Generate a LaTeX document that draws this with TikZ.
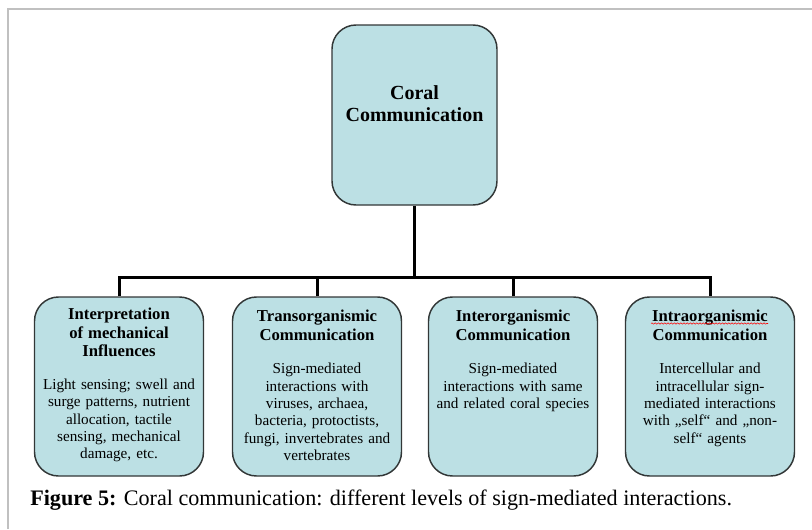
\documentclass[tikz,border=0pt]{standalone}
\usepackage{fontspec}
\setmainfont{Liberation Serif}
\usetikzlibrary{decorations.pathmorphing}
\definecolor{boxfill}{RGB}{188,224,228}
\definecolor{boxline}{RGB}{50,55,55}
\definecolor{framegray}{RGB}{192,192,192}
\newcommand\hd{\fontsize{12.5}{13.9}\selectfont\bfseries}
\begin{document}
\begin{tikzpicture}[x=0.75pt,y=-0.75pt,
  box/.style={draw=boxline, line width=1.1pt, fill=boxfill, rounded corners=18pt,
    minimum width=126.75pt, minimum height=134.25pt, inner sep=0pt},
  topbox/.style={box, minimum width=123.75pt, minimum height=135pt},
  conn/.style={line width=2.25pt, line join=miter},
  boxtext/.style={anchor=north, inner sep=0pt, text width=124pt, align=center,
    font=\fontsize{11.4}{13}\selectfont},
  caption/.style={anchor=base west, inner sep=0pt, font=\fontsize{16.6}{19}\selectfont}]
\useasboundingbox (0,0) rectangle (812,529);

% frame lines at the top and left
\draw[framegray, line width=1.5pt] (7.5,529) -- (7.5,8.5) -- (812,8.5);

% boxes
\node[topbox] (coral) at (414.5,115) {};
\node[box] (b1) at (119,386.5) {};
\node[box] (b2) at (317,386.5) {};
\node[box] (b3) at (513,386.5) {};
\node[box] (b4) at (710,386.5) {};

% tree connectors
\coordinate (bus) at (coral.south |- 0,277);
\draw[conn] (coral.south) -- (bus);
\draw[conn] (b1.north) |- (bus) -| (b4.north);
\draw[conn] (b2.north) -- (b2.north |- bus);
\draw[conn] (b3.north) -- (b3.north |- bus);

% box texts
\node[anchor=north, inner sep=0pt, align=center, font=\fontsize{15}{16.5}\selectfont\bfseries]
  (tc) at ([yshift=-45.5pt]coral.north) {Coral\\Communication};
\node[boxtext] (t1) at ([yshift=-8.6pt]b1.north)
  {{\hd Interpretation\\of mechanical\\Influences\par}\vspace{11.7pt}%
   Light sensing; swell and\\surge patterns, nutrient\\allocation, tactile\\sensing, mechanical\\damage, etc.};
\node[boxtext] (t2) at ([yshift=-10.1pt]b2.north)
  {{\hd Transorganismic\\Communication\par}\vspace{12.2pt}%
   Sign-mediated\\interactions with\\viruses, archaea,\\bacteria, protoctists,\\fungi, invertebrates and\\vertebrates};
\node[boxtext] (t3) at ([yshift=-10.1pt]b3.north)
  {{\hd Interorganismic\\Communication\par}\vspace{12.2pt}%
   Sign-mediated\\interactions with same\\and related coral species};
\node[boxtext] (t4) at ([yshift=-10.1pt]b4.north)
  {{\hd Intraorganismic\\Communication\par}\vspace{12.2pt}%
   Intercellular and\\intracellular sign-\\mediated interactions\\with „self“ and „non-\\self“ agents};
% spell-check squiggle under the first heading word of the last box
\draw[red, line width=0.4pt, decorate, decoration={snake, amplitude=0.5pt, segment length=2.4pt}]
  (651,323.5) -- (768,323.5);

% caption
\node[caption] (cap) at (30,505) {\textbf{Figure 5:} Coral communication: different levels of sign-mediated interactions.};
\end{tikzpicture}
\end{document}
